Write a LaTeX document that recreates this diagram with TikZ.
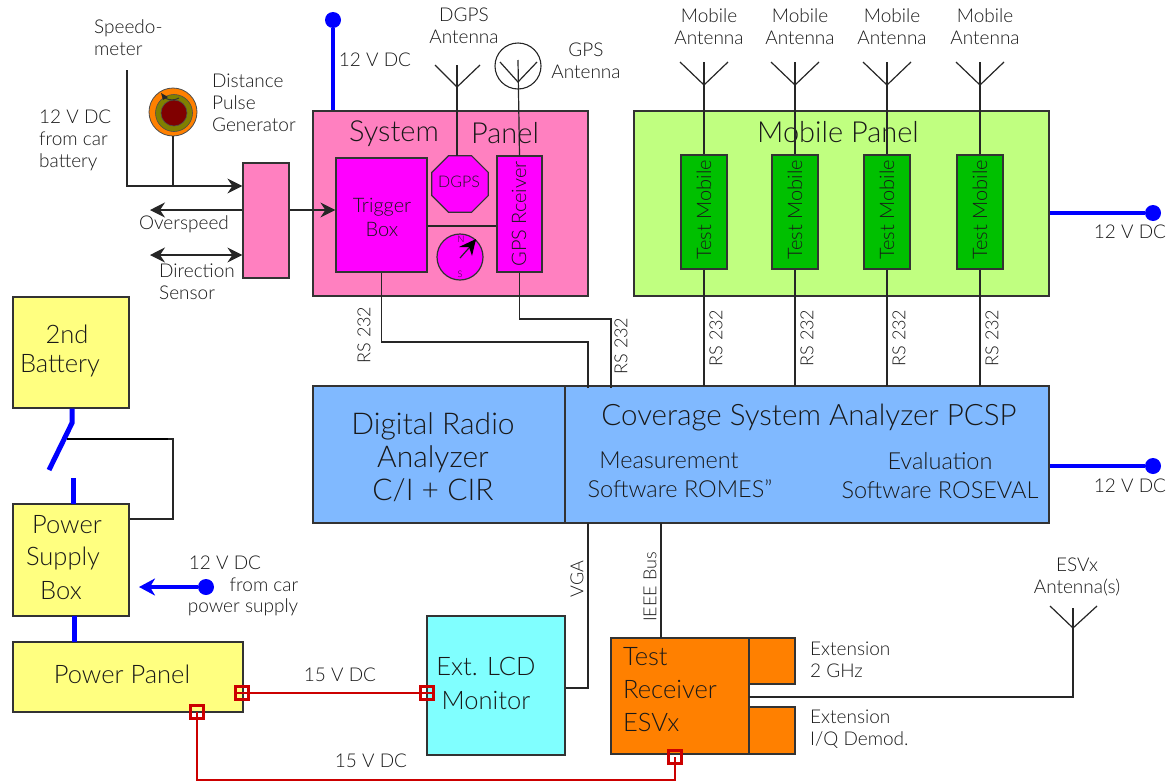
\documentclass[tikz,border=0pt]{standalone}
\usepackage{fontspec}
\setmainfont{Lato}[UprightFont=* Light]
\usetikzlibrary{arrows.meta,shapes.geometric}
\definecolor{pinkp}{RGB}{255,128,192}
\definecolor{magp}{RGB}{255,0,255}
\definecolor{yellowp}{RGB}{255,255,128}
\definecolor{limep}{RGB}{192,255,128}
\definecolor{greenp}{RGB}{0,192,0}
\definecolor{bluep}{RGB}{128,185,255}
\definecolor{cyanp}{RGB}{128,255,255}
\definecolor{orangep}{RGB}{255,128,0}
\definecolor{redp}{RGB}{204,0,0}
\definecolor{bluew}{RGB}{0,0,255}
\definecolor{inkp}{RGB}{25,25,25}
\definecolor{oliveg}{RGB}{128,128,0}
\definecolor{darkr}{RGB}{128,0,0}
\newcommand{\fz}[2]{\fontsize{#1}{#2}\selectfont}
\tikzset{
  wire/.style={line width=1.2pt,draw=black!85},
  pwr/.style={line width=5pt,draw=bluew},
  pwrthin/.style={line width=3.2pt,draw=bluew},
  redw/.style={line width=2.4pt,draw=redp},
  tip/.style={-{Stealth[inset=5pt,length=15pt,width=15pt]}},
  tips/.style={{Stealth[inset=5pt,length=15pt,width=15pt]}-{Stealth[inset=5pt,length=15pt,width=15pt]}},
  box/.style={draw=black!80,line width=1.2pt,inner sep=0pt,text=inkp},
  big/.style={font=\fz{29}{33},text=inkp,inner sep=0pt,align=center},
  mid/.style={font=\fz{25.5}{33},text=inkp,inner sep=0pt,align=center},
  sub/.style={font=\fz{23.5}{29},text=inkp,inner sep=0pt,align=center},
  vert/.style={font=\fz{20}{22},text=inkp,inner sep=0pt,rotate=90},
  lab/.style={font=\fz{19}{22},text=inkp,inner sep=0pt,align=center},
  labl/.style={font=\fz{19}{22},text=inkp,inner sep=0pt,align=left,anchor=west},
  rs/.style={font=\fz{18}{20},text=inkp,inner sep=0pt,rotate=90},
  dot/.style={circle,fill=bluew,inner sep=0pt,minimum size=16pt},
  port/.style={draw=redp,line width=2.2pt,inner sep=0pt,minimum size=13pt,fill=none},
}
\begin{document}
\begin{tikzpicture}[x=1pt,y=-1pt]
\useasboundingbox (0,0) rectangle (1173,782);

% panels
\node[box,fill=pinkp,minimum width=275pt,minimum height=185pt] (sys) at (450.5,203.5) {};
\node[box,fill=limep,minimum width=415pt,minimum height=185pt] (mob) at (841.5,203.5) {};
\node[box,fill=bluep,minimum width=252pt,minimum height=137pt] (dra) at (439,454.5) {};
\node[box,fill=bluep,minimum width=484pt,minimum height=137pt] (csa) at (807,454.5) {};
\node[box,fill=pinkp,minimum width=46pt,minimum height=115pt] (conv) at (266,220.5) {};
\node[box,fill=magp,minimum width=91pt,minimum height=114pt] (trig) at (381.5,215) {};
\node[box,fill=magp,minimum width=45pt,minimum height=116pt] (gpsr) at (519.5,214) {};
\node[box,fill=magp,regular polygon,regular polygon sides=8,minimum size=61pt] (dgps) at (460,184) {};
\node[box,fill=magp,circle,minimum size=46pt] (comp) at (460,257) {};
\node[box,fill=yellowp,minimum width=116pt,minimum height=111pt] (batt) at (71,352.5) {};
\node[box,fill=yellowp,minimum width=116pt,minimum height=112pt] (psb) at (71,560) {};
\node[box,fill=yellowp,minimum width=230pt,minimum height=70pt] (pp) at (128,677) {};
\node[box,fill=cyanp,minimum width=138pt,minimum height=139pt] (lcd) at (496,685.5) {};
\node[box,fill=orangep,minimum width=138pt,minimum height=116pt] (esv) at (680,696) {};
\node[box,fill=orangep,minimum width=46pt,minimum height=46pt] (ext1) at (772,661) {};
\node[box,fill=orangep,minimum width=46pt,minimum height=47pt] (ext2) at (772,730.5) {};

% test mobiles, their antennas and RS 232 lines
\node[big] at (838,132) {Mobile Panel};
\foreach \i/\x in {1/704,2/795,3/887,4/980}{
  \node[box,fill=greenp,minimum width=46pt,minimum height=114pt] (tm\i) at (\x,212) {};
  \node[vert] at (\x,210) {Test Mobile};
  \coordinate (aj\i) at (\x,85);
  \coordinate (at\i) at (\x,62);
  \coordinate (al\i) at (\x-24,62);
  \coordinate (ar\i) at (\x+24,62);
  \draw[wire] (at\i) -- (tm\i.north);
  \draw[wire] (al\i) -- (aj\i) -- (ar\i);
  \draw[wire] (tm\i.south) -- (\x,386);
  \node[lab] at (\x+5,27) {Mobile\\Antenna};
  \node[rs] at (\x+12,338) {RS 232};
}

% DGPS antenna
\coordinate (dj) at (457,87);
\draw[wire] (457,65) -- (457,156);
\draw[wire] (435,65) -- (dj) -- (480,65);
% GPS antenna
\node[draw=black!85,line width=1.1pt,circle,minimum size=46pt,inner sep=0pt] (gpsc) at (518,66) {};
\coordinate (gj) at (518,82);
\draw[wire] (518,60) -- (gpsr.north);
\draw[wire] (500,62) -- (gj) -- (537,62);

% data lines
\coordinate (w1) at (588,342);
\coordinate (w2) at (611,319);
\coordinate (csaA) at (588,388);
\coordinate (csaB) at (611,388);
\draw[wire] (trig.south) |- (w1) -- (csaA);
\draw[wire] (gpsr.south) |- (w2) -- (csaB);
\draw[wire] (trig.east |- 0,226) -- (gpsr.west |- 0,226);
\coordinate (vgaTop) at (588,523);
\coordinate (vgaMid) at (588,688);
\draw[wire] (vgaTop) -- (vgaMid) -- (lcd.east |- vgaMid);
\draw[wire] (661,523) -- (661,638);
% ESVx antenna
\coordinate (ej) at (1073,628);
\draw[wire] (749,697) -- (1073,697) -- (1073,608);
\draw[wire] (1050,606) -- (ej) -- (1097,606);

% left inputs
\coordinate (spTop) at (127,70);
\coordinate (spCor) at (127,186);
\draw[wire,tip] (spTop) -- (spCor) -- (conv.west |- spCor);
\node[circle,fill=orangep,draw=black!70,line width=.8pt,minimum size=48pt,inner sep=0pt] (dpg) at (173,112) {};
\node[circle,fill=oliveg,draw=black!70,line width=.6pt,minimum size=37pt,inner sep=0pt] at (174,113) {};
\node[circle,fill=darkr,draw=black!70,line width=.6pt,minimum size=26pt,inner sep=0pt] at (174,113) {};
\draw[line width=1pt,draw=black!80] (165,98) arc[start angle=120,end angle=60,radius=14];
\fill[black!85] (161,93) -- (168,97) -- (163,100) -- cycle;
\draw[wire] (dpg.south) -- (173,186);
\draw[wire,tip] (conv.west |- 0,210) -- (150,210);
\draw[wire,tips] (150,255) -- (conv.west |- 0,255);
\draw[wire,tip] (conv.east |- 0,210) -- (trig.west |- 0,210);

% compass needle
\draw[line width=1.2pt,draw=black!85] (460,258) -- (476,240);
\fill[black] (476,239) -- (459,247) -- (469,247) -- (472,256) -- cycle;
\node[font=\fz{9}{9},inner sep=0pt,text=inkp] at (461,239) {N};
\node[font=\fz{9}{9},inner sep=0pt,text=inkp] at (460,274) {S};

% 12 V feeds
\node[dot] (d1) at (333,20) {};
\draw[pwrthin] (d1) -- (sys.north west -| d1);
\node[dot] (d2) at (1153,213) {};
\draw[pwrthin] (d2) -- (mob.east |- d2);
\node[dot] (d3) at (1153,466) {};
\draw[pwrthin] (d3) -- (csa.east |- d3);
\node[dot] (d4) at (206,587) {};
\draw[pwrthin,-{Stealth[inset=5pt,length=16pt,width=17pt]},color=bluew] (d4) -- (139,587);

% battery switch
\coordinate (swA) at (72,423);
\coordinate (swB) at (49,470);
\draw[pwr] (batt.south -| swA) -- (swA) -- (swB);
\draw[pwr] (73,478) -- (73,504);
\draw[pwr,line width=5.5pt] (74.5,616) -- (74.5,642);
\coordinate (swC) at (67,439);
\coordinate (swD) at (173,439);
\coordinate (swE) at (173,519);
\draw[wire] (swC) -- (swD) -- (swE) -- (psb.east |- swE);
\draw[line width=2pt,draw=black] (swC) -- (168,439);

% red lines with ports
\node[port] (p1) at (242,693) {};
\node[port] (p2) at (427,693) {};
\node[port] (p3) at (197,712) {};
\node[port] (p4) at (675,757) {};
\draw[redw] (235,693) -- (434,693);
\coordinate (rd1) at (197,780);
\coordinate (rd2) at (675,780);
\draw[redw] (197,712) -- (rd1) -- (rd2) -- (675,757);

% texts
\node[labl] at (94,38) {Speedo-\\meter};
\node[labl] at (212,103) {Distance\\Pulse\\Generator};
\node[labl] at (39,140) {12 V DC\\from car\\battery};
\node[lab] at (184,224) {Overspeed};
\node[labl] at (159,282) {Direction\\Sensor};
\node[lab] at (375,60) {12 V DC};
\node[lab] at (464,26) {DGPS\\Antenna};
\node[lab] at (586,61) {GPS\\Antenna};
\node[big] at (394,134) {System};
\node[big] at (505,133) {Panel};
\node[font=\fz{20}{24},text=inkp,inner sep=0pt,align=center] at (382,217) {Trigger\\Box};
\node[font=\fz{16}{19},text=inkp,inner sep=0pt] at (459,182) {DGPS};
\node[vert] at (519,214) {GPS Rceiver};
\node[rs] at (364,335) {RS 232};
\node[rs] at (621,346) {RS 232};
\node[lab] at (1130,232) {12 V DC};
\node[lab] at (1130,486) {12 V DC};
\node[big,font=\fz{30}{33}] at (433,457) {Digital Radio\\Analyzer\\C/I + CIR};
\node[big,font=\fz{29.5}{33}] at (809,417) {Coverage System Analyzer PCSP};
\node[sub] at (669,460) {Measurement};
\node[sub] at (680,489) {Software ROMES"};
\node[sub] at (940,476) {Evaluation\\Software ROSEVAL};
\node[mid] at (67,334) {2nd};
\node[mid] at (60,366) {Battery};
\node[mid] at (67,525) {Power};
\node[mid] at (63,558) {Supply};
\node[mid] at (61,591) {Box};
\node[mid] at (122,674) {Power Panel};
\node[lab] at (225,563) {12 V DC};
\node[lab] at (264,585) {from car};
\node[lab] at (243,607) {power supply};
\node[lab] at (340,675) {15 V DC};
\node[lab] at (371,761) {15 V DC};
\node[rs] at (577,579) {VGA};
\node[rs] at (650,587) {IEEE Bus};
\node[mid,font=\fz{25.5}{34}] at (486,683) {Ext. LCD\\Monitor};
\node[mid,align=left,anchor=west] at (623,690) {Test\\Receiver\\ESVx};
\node[labl] at (810,660) {Extension\\2 GHz};
\node[labl] at (810,729) {Extension\\I/Q Demod.};
\node[lab] at (1077,577) {ESVx\\Antenna(s)};
\end{tikzpicture}
\end{document}
